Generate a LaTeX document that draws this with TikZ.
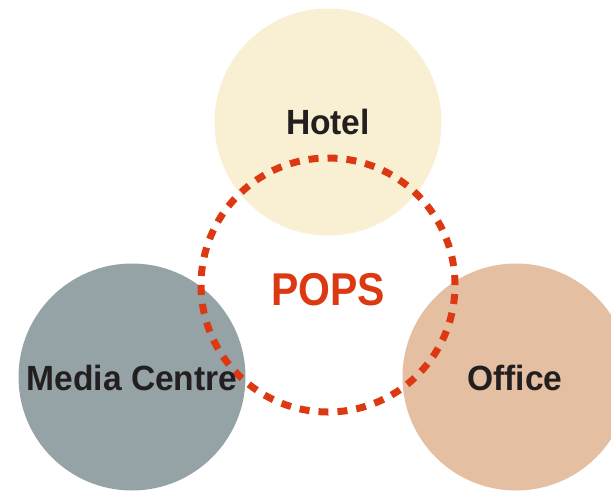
\documentclass[tikz,border=0pt]{standalone}
\usepackage{fontspec}
\setmainfont{Liberation Sans}
\definecolor{hotelc}{HTML}{F9EFD2}
\definecolor{mediac}{HTML}{95A3A6}
\definecolor{officec}{HTML}{E4BFA2}
\definecolor{popsc}{HTML}{DC3912}
\definecolor{txtc}{HTML}{231F20}
\begin{document}
\begin{tikzpicture}[x=1pt,y=-1pt,
  blob/.style={circle,minimum size=227pt,inner sep=0pt,draw=none},
  lbl/.style={font=\bfseries\fontsize{35}{35}\selectfont,text=txtc,inner sep=0pt,xscale=0.96},
]
\useasboundingbox (0,0) rectangle (611,491);
\begin{scope}
\clip (0,0) rectangle (611,491);
\node[blob,fill=hotelc] (hotel) at (328,122) {};
\node[blob,fill=mediac] (media) at (132,377) {};
\node[blob,fill=officec] (office) at (516,377) {};
\node[circle,minimum size=254pt,inner sep=0pt,draw=popsc,line width=7pt,dash pattern=on 10pt off 9pt] (pops) at (328,285) {};
\end{scope}
\node[lbl] (hotelt) at (328,122) {Hotel};
\node[lbl] (mediat) at (132,378) {Media Centre};
\node[lbl] (officet) at (515,378) {Office};
\node[font=\bfseries\fontsize{46}{46}\selectfont,text=popsc,inner sep=0pt,xscale=0.89] (popst) at (328,290) {POPS};
\end{tikzpicture}
\end{document}
